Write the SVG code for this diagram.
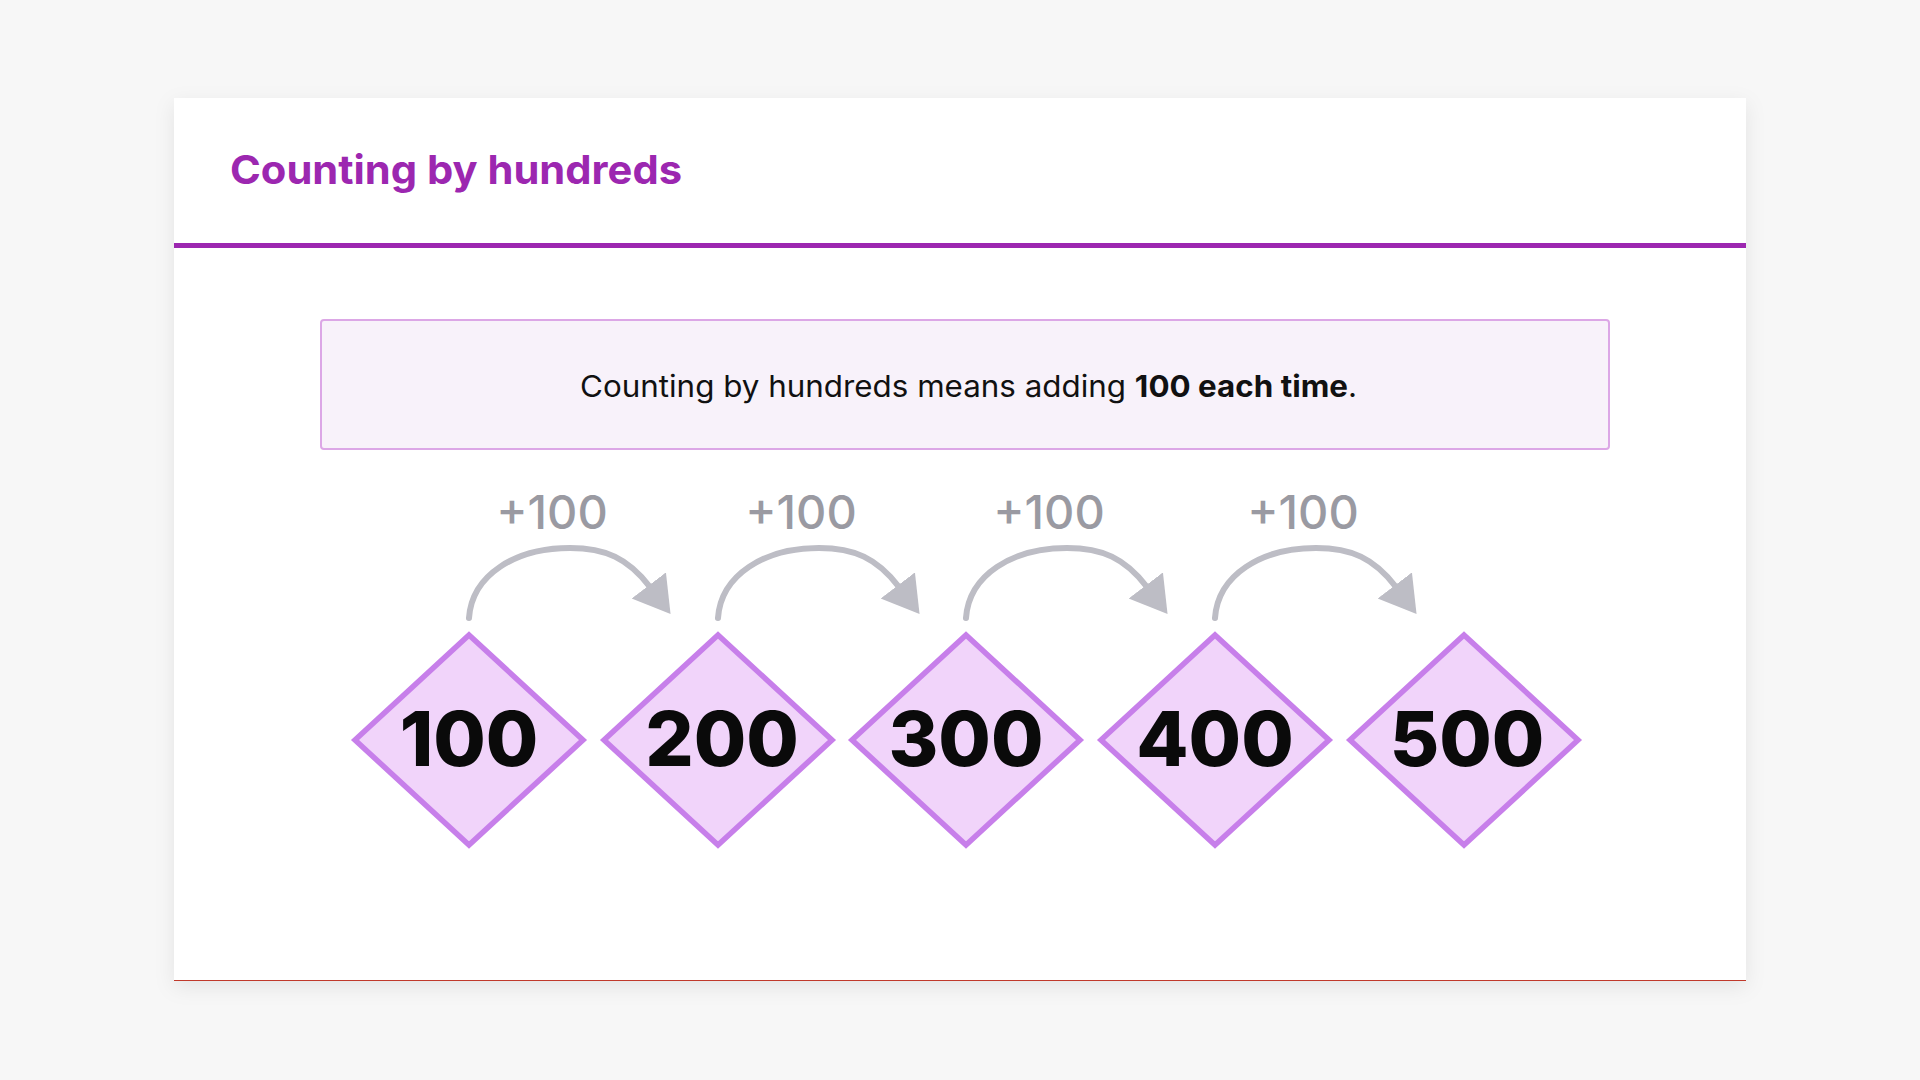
<svg xmlns="http://www.w3.org/2000/svg" width="1920" height="1080" viewBox="0 0 1920 1080">
  <style>
    .title { font-family: Inter, "Noto Sans", "Liberation Sans", sans-serif; font-weight: 700; font-size: 40px; fill: #9C27B0; }
    .info { font-family: Inter, "Noto Sans", "Liberation Sans", sans-serif; font-weight: 400; font-size: 30px; fill: #111111; }
    .info .b { font-weight: 700; }
    .step { font-family: Inter, "Noto Sans", "Liberation Sans", sans-serif; font-weight: 500; font-size: 47px; fill: #9A9AA2; text-anchor: middle; }
    .num { font-family: Inter, "Noto Sans", "Liberation Sans", sans-serif; font-weight: 800; font-size: 76px; fill: #0A0A0A; text-anchor: middle; }
    .diamond { fill: #F1D4FA; stroke: #C77FEA; stroke-width: 5.5; stroke-linejoin: miter; }
    .arc { fill: none; stroke: #BDBDC5; stroke-width: 6; stroke-linecap: round; }
  </style>
  <defs>
    <filter id="shadow" x="-5%" y="-5%" width="110%" height="115%">
      <feDropShadow dx="0" dy="6" stdDeviation="10" flood-color="#000000" flood-opacity="0.08"/>
    </filter>
    <marker id="arrow" markerUnits="userSpaceOnUse" markerWidth="40" markerHeight="46" viewBox="0 0 40 46" refX="2" refY="21.5" orient="auto">
      <path d="M0,0 L36,21.5 L0,43 Z" fill="#BDBDC5"/>
    </marker>
  </defs>

  <rect x="0" y="0" width="1920" height="1080" fill="#F7F7F7"/>

  <g id="card">
    <rect x="174" y="98" width="1572" height="883" fill="#FFFFFF" filter="url(#shadow)"/>
    <line x1="174" y1="980.5" x2="1746" y2="980.5" stroke="#C0392B" stroke-width="1.2"/>
    <rect x="174" y="243" width="1572" height="5" fill="#9C27B0"/>
    <text class="title" x="230" y="184" textLength="452" lengthAdjust="spacingAndGlyphs">Counting by hundreds</text>
  </g>

  <g id="info">
    <rect x="321" y="320" width="1288" height="129" rx="3" fill="#F8F2FA" stroke="#DCA7E6" stroke-width="2"/>
    <text class="info" x="580" y="397" textLength="777" lengthAdjust="spacingAndGlyphs">Counting by hundreds means adding <tspan class="b">100 each time</tspan>.</text>
  </g>

  <g id="connectors">
    <path class="arc" d="M469,618 C472,575 515,548 570,548 C605,548 628,558 650,587" marker-end="url(#arrow)"/>
    <path class="arc" d="M718,618 C721,575 764,548 819,548 C854,548 877,558 899,587" marker-end="url(#arrow)"/>
    <path class="arc" d="M966,618 C969,575 1012,548 1067,548 C1102,548 1125,558 1147,587" marker-end="url(#arrow)"/>
    <path class="arc" d="M1215,618 C1218,575 1261,548 1316,548 C1351,548 1374,558 1396,587" marker-end="url(#arrow)"/>
  </g>

  <g id="labels">
    <text class="step" x="552" y="529">+100</text>
    <text class="step" x="801" y="529">+100</text>
    <text class="step" x="1049" y="529">+100</text>
    <text class="step" x="1303" y="529">+100</text>
  </g>

  <g id="node-100">
    <polygon class="diamond" points="469,635 583,740 469,845 355,740"/>
    <text class="num" x="469" y="766">100</text>
  </g>
  <g id="node-200">
    <polygon class="diamond" points="718,635 832,740 718,845 604,740"/>
    <text class="num" x="722" y="766">200</text>
  </g>
  <g id="node-300">
    <polygon class="diamond" points="966,635 1080,740 966,845 852,740"/>
    <text class="num" x="966" y="766">300</text>
  </g>
  <g id="node-400">
    <polygon class="diamond" points="1215,635 1329,740 1215,845 1101,740"/>
    <text class="num" x="1215" y="766">400</text>
  </g>
  <g id="node-500">
    <polygon class="diamond" points="1464,635 1578,740 1464,845 1350,740"/>
    <text class="num" x="1467" y="766">500</text>
  </g>
</svg>
